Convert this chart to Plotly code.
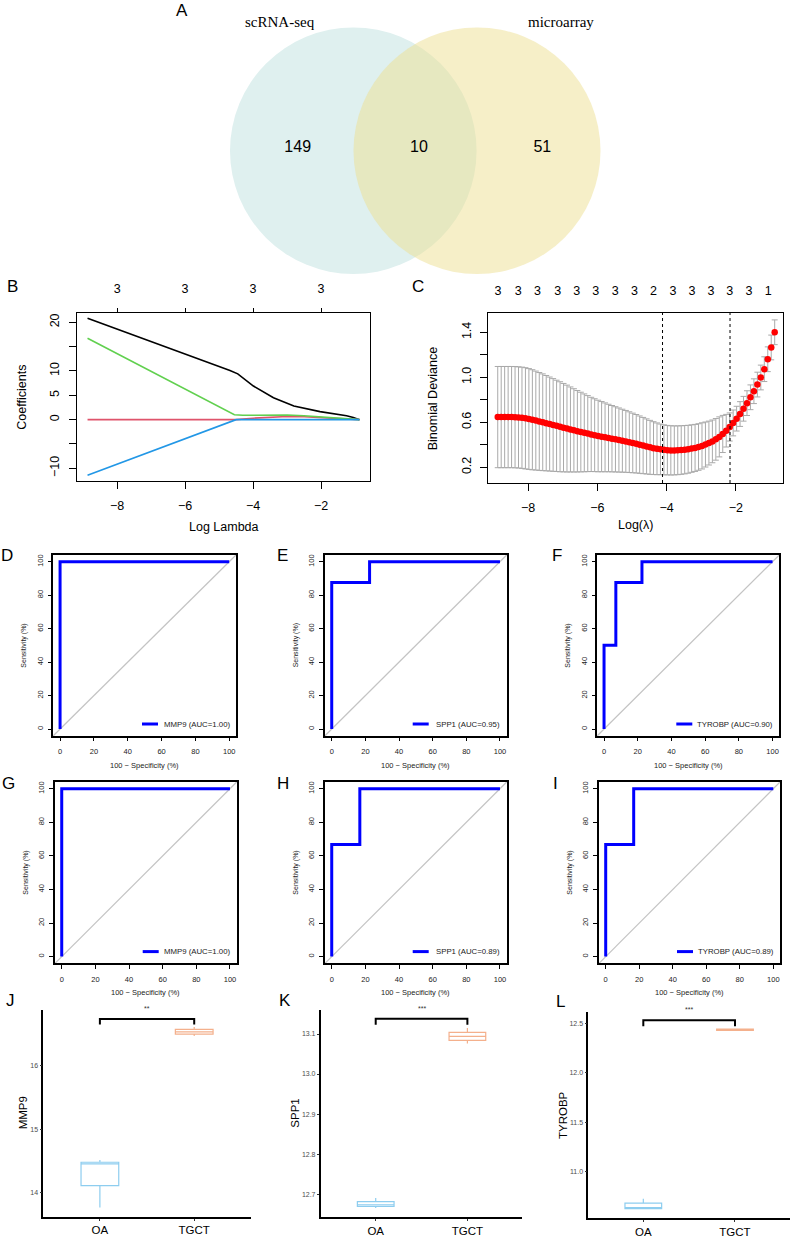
import plotly.graph_objects as go

W, H = 790, 1239
SANS = "Liberation Sans, Arial, sans-serif"
SERIF = "Liberation Serif, Times New Roman, serif"

# ---------------- data ----------------
# A: Venn diagram
venn_names = ["scRNA-seq", "microarray"]
venn_counts = [149, 10, 51]  # only scRNA-seq, both, only microarray

# B: lasso coefficient paths (log lambda -> coefficient)
path_black_x = [-8.87, -8.0, -7.0, -6.0, -5.0, -4.68, -4.45, -4.2, -3.99, -3.4, -2.8, -2.03, -1.5, -1.25, -1.05, -0.87]
path_black_y = [20.8, 18.6, 16.1, 13.5, 11.0, 10.1, 9.4, 8.0, 6.9, 4.5, 2.8, 1.65, 1.15, 0.8, 0.45, 0.0]
path_red_x = [-8.87, -4.5, -4.0, -3.5, -3.0, -2.5, -2.0, -1.5, -0.87]
path_red_y = [0.0, 0.0, 0.3, 0.55, 0.65, 0.6, 0.4, 0.15, 0.0]
path_green_x = [-8.87, -4.55, -4.3, -3.5, -3.0, -2.5, -2.0, -1.5, -1.2, -0.87]
path_green_y = [16.7, 1.0, 0.9, 1.0, 0.95, 0.8, 0.55, 0.2, 0.05, 0.0]
path_blue_x = [-8.87, -4.5, -0.87]
path_blue_y = [-11.4, 0.0, 0.0]
path_top_pos = [-8, -6, -4, -2]
path_top_lab = ["3", "3", "3", "3"]

# C: cross-validation curve
cv_loglambda = [
    -8.88, -8.78, -8.68, -8.58, -8.48, -8.38, -8.28, -8.18, -8.08, -7.98,
    -7.88, -7.78, -7.68, -7.58, -7.48, -7.38, -7.28, -7.18, -7.08, -6.98,
    -6.88, -6.78, -6.68, -6.58, -6.48, -6.38, -6.28, -6.18, -6.08, -5.98,
    -5.88, -5.78, -5.68, -5.58, -5.48, -5.38, -5.28, -5.18, -5.08, -4.98,
    -4.88, -4.78, -4.68, -4.58, -4.48, -4.38, -4.28, -4.18, -4.08, -3.98,
    -3.88, -3.78, -3.68, -3.58, -3.48, -3.38, -3.28, -3.18, -3.08, -2.98,
    -2.88, -2.78, -2.68, -2.58, -2.48, -2.38, -2.28, -2.18, -2.08, -1.98,
    -1.88, -1.78, -1.68, -1.58, -1.48, -1.38, -1.28, -1.18, -1.08, -0.98,
    -0.88]
cv_mean = [
    0.646, 0.646, 0.646, 0.646, 0.646, 0.645, 0.643, 0.640, 0.635, 0.629,
    0.622, 0.615, 0.607, 0.600, 0.592, 0.584, 0.576, 0.568, 0.560, 0.552,
    0.544, 0.536, 0.528, 0.520, 0.513, 0.506, 0.499, 0.492, 0.485, 0.478,
    0.472, 0.466, 0.460, 0.454, 0.448, 0.442, 0.436, 0.430, 0.423, 0.416,
    0.409, 0.401, 0.393, 0.385, 0.377, 0.370, 0.364, 0.359, 0.355, 0.352,
    0.350, 0.350, 0.351, 0.353, 0.356, 0.360, 0.366, 0.372, 0.380, 0.390,
    0.402, 0.415, 0.430, 0.448, 0.470, 0.496, 0.525, 0.558, 0.594, 0.632,
    0.673, 0.720, 0.770, 0.822, 0.876, 0.935, 0.998, 1.072, 1.160, 1.265,
    1.400]
cv_se = [
    0.450, 0.450, 0.450, 0.450, 0.450, 0.450, 0.450, 0.450, 0.450, 0.448,
    0.445, 0.440, 0.435, 0.430, 0.424, 0.418, 0.412, 0.406, 0.400, 0.393,
    0.386, 0.378, 0.370, 0.362, 0.354, 0.346, 0.338, 0.330, 0.324, 0.318,
    0.312, 0.306, 0.300, 0.295, 0.290, 0.285, 0.280, 0.275, 0.270, 0.265,
    0.260, 0.255, 0.250, 0.245, 0.240, 0.235, 0.230, 0.225, 0.222, 0.220,
    0.219, 0.218, 0.217, 0.216, 0.215, 0.213, 0.211, 0.209, 0.207, 0.205,
    0.200, 0.195, 0.190, 0.185, 0.178, 0.165, 0.145, 0.125, 0.115, 0.110,
    0.110, 0.110, 0.110, 0.110, 0.110, 0.110, 0.110, 0.110, 0.110, 0.110,
    0.110]
cv_top_pos = [-8.87, -8.29, -7.73, -7.15, -6.6, -6.05, -5.49, -4.93, -4.38,
              -3.82, -3.27, -2.72, -2.18, -1.62, -1.07]
cv_top_lab = ["3", "3", "3", "3", "3", "3", "3", "3", "2",
              "3", "3", "3", "3", "3", "1"]
lambda_min = -4.12
lambda_1se = -2.17

# D-I: ROC curves (100 - specificity, sensitivity)
roc_genes = ["MMP9", "SPP1", "TYROBP", "MMP9", "SPP1", "TYROBP"]
roc_auc = ["1.00", "0.95", "0.90", "1.00", "0.89", "0.89"]
roc_fpr = [[0, 0, 100],
           [0, 0, 22.5, 22.5, 100],
           [0, 0, 7, 7, 22.5, 22.5, 100],
           [0, 0, 100],
           [0, 0, 16.7, 16.7, 100],
           [0, 0, 16.7, 16.7, 100]]
roc_tpr = [[0, 100, 100],
           [0, 87.5, 87.5, 100, 100],
           [0, 50, 50, 87.5, 87.5, 100, 100],
           [0, 100, 100],
           [0, 66.7, 66.7, 100, 100],
           [0, 66.7, 66.7, 100, 100]]

# J-L: expression boxplots (OA, TGCT)
box_genes = ["MMP9", "SPP1", "TYROBP"]
box_groups = ["OA", "TGCT"]
box_low = [[13.764, 16.47], [12.665, 13.076], [10.627, 12.428]]
box_q1 = [[14.11, 16.50], [12.669, 13.084], [10.627, 12.432]]
box_med = [[14.452, 16.535], [12.673, 13.094], [10.634, 12.44]]
box_q3 = [[14.479, 16.575], [12.681, 13.104], [10.684, 12.445]]
box_high = [[14.515, 16.61], [12.69, 13.115], [10.729, 12.447]]
box_sig = ["**", "***", "***"]
box_bracket_top = [16.74, 13.138, 12.533]
box_bracket_leg = [16.65, 13.123, 12.473]
box_ticks = [[14, 15, 16], [12.7, 12.8, 12.9, 13.0, 13.1], [11.0, 11.5, 12.0, 12.5]]
box_ticktext = [["14", "15", "16"], ["12.7", "12.8", "12.9", "13.0", "13.1"],
                ["11.0", "11.5", "12.0", "12.5"]]


# ---------------- helpers ----------------
def dom_x(left, right):
    return [left / W, right / W]


def dom_y(top, bottom):
    return [1 - bottom / H, 1 - top / H]


def note(text, x, y, size, angle=0, family=SANS, color="black", **kw):
    return dict(text=text, x=x / W, y=1 - y / H, xref="paper", yref="paper",
                showarrow=False, textangle=angle, xanchor=kw.pop("xanchor", "center"),
                yanchor=kw.pop("yanchor", "middle"),
                font=dict(size=size, family=family, color=color), **kw)


fig = go.Figure()
lay = {}
shapes = []
annotations = []

# ---------------- A: Venn ----------------
lay["xaxis"] = dict(domain=[0, 1], range=[0, W], visible=False, fixedrange=True)
lay["yaxis"] = dict(domain=dom_y(0, 290), range=[290, 0], visible=False, fixedrange=True)
shapes.append(dict(type="circle", xref="x", yref="y", x0=230, x1=476.6, y0=27.4, y1=274,
                   fillcolor="rgb(223,240,239)", line=dict(width=0), layer="below"))
shapes.append(dict(type="circle", xref="x", yref="y", x0=353.5, x1=600.5, y0=27.4, y1=274,
                   fillcolor="rgba(237,223,145,0.5)", line=dict(width=0), layer="below"))
fig.add_trace(go.Scatter(x=[297.7, 419, 542.3], y=[148, 148, 148], text=[str(c) for c in venn_counts],
                         mode="text", textfont=dict(size=16, family=SANS, color="black"),
                         hoverinfo="skip", xaxis="x", yaxis="y"))
annotations.append(note(venn_names[0], 280, 22, 15, family=SERIF))
annotations.append(note(venn_names[1], 561, 22, 15, family=SERIF))

# ---------------- B: coefficient paths ----------------
for xs, ys, col in [(path_black_x, path_black_y, "black"), (path_red_x, path_red_y, "#DF536B"),
                    (path_green_x, path_green_y, "#61D04F"), (path_blue_x, path_blue_y, "#2297E6")]:
    fig.add_trace(go.Scatter(x=xs, y=ys, mode="lines", line=dict(color=col, width=1.6),
                             xaxis="x2", yaxis="y2", hoverinfo="skip"))
fig.add_trace(go.Scatter(x=path_top_pos, y=[0] * len(path_top_pos), mode="markers",
                         marker=dict(opacity=0), xaxis="x3", yaxis="y2", hoverinfo="skip"))

r_axis = dict(showline=True, mirror=True, linecolor="black", linewidth=1.3, ticks="outside",
              tickcolor="black", tickwidth=1, showgrid=False, zeroline=False,
              tickfont=dict(size=12.5, family=SANS, color="black"))
lay["xaxis2"] = dict(r_axis, domain=dom_x(77, 370), range=[-9.18, -0.56], anchor="y2",
                     tickvals=[-8, -6, -4, -2], ticklen=7, ticklabelstandoff=6)
lay["xaxis3"] = dict(overlaying="x2", side="top", anchor="y2", range=[-9.18, -0.56],
                     tickvals=path_top_pos, ticktext=path_top_lab, ticks="outside", ticklen=4,
                     tickcolor="black", showline=False, showgrid=False, zeroline=False,
                     ticklabelstandoff=10, tickfont=dict(size=12.5, family=SANS, color="black"))
lay["yaxis2"] = dict(r_axis, domain=dom_y(313, 481), range=[-12.6, 21.9], anchor="x2",
                     tickvals=[-10, -5, 0, 5, 10, 15, 20],
                     ticktext=["\u221210", "", "0", "5", "10", "", "20"], tickangle=-90, ticklen=7,
                     ticklabelstandoff=5)
annotations.append(note("Coefficients", 21.7, 397, 12.5, angle=-90))
annotations.append(note("Log Lambda", 223.5, 526.7, 12.5))

# ---------------- C: CV curve ----------------
fig.add_trace(go.Scatter(x=cv_loglambda, y=cv_mean, mode="markers",
                         marker=dict(color="red", size=6.5, line=dict(width=0)),
                         error_y=dict(type="data", array=cv_se, color="#A9A9A9", thickness=1, width=3),
                         xaxis="x4", yaxis="y4", hoverinfo="skip"))
fig.add_trace(go.Scatter(x=cv_top_pos, y=[0.5] * len(cv_top_pos), mode="markers",
                         marker=dict(opacity=0), xaxis="x5", yaxis="y4", hoverinfo="skip"))
lay["xaxis4"] = dict(r_axis, domain=dom_x(487.7, 783), range=[-9.17, -0.64], anchor="y4",
                     tickvals=[-8, -6, -4, -2], ticklen=7, ticklabelstandoff=6)
lay["xaxis5"] = dict(overlaying="x4", side="top", anchor="y4", range=[-9.17, -0.64],
                     tickvals=cv_top_pos, ticktext=cv_top_lab, ticks="", showline=False,
                     showgrid=False, zeroline=False, ticklabelstandoff=14,
                     tickfont=dict(size=12.5, family=SANS, color="black"))
lay["yaxis4"] = dict(r_axis, domain=dom_y(312.7, 483), range=[0.06, 1.574], anchor="x4",
                     tickvals=[0.2, 0.4, 0.6, 0.8, 1.0, 1.2, 1.4],
                     ticktext=["0.2", "", "0.6", "", "1.0", "", "1.4"], tickangle=-90, ticklen=7,
                     ticklabelstandoff=4)
for lam in (lambda_min, lambda_1se):
    shapes.append(dict(type="line", xref="x4", yref="y4 domain", x0=lam, x1=lam, y0=0, y1=1,
                       line=dict(color="black", width=1, dash="dot")))
annotations.append(note("Binomial Deviance", 433.3, 398, 12.5, angle=-90))
annotations.append(note("Log(\u03bb)", 635.3, 525, 12.5))

# ---------------- D-I: ROC ----------------
roc_boxes = [(53.3, 236, 555, 735.7), (325, 506.7, 555, 735.7), (597.3, 779.3, 555, 735.7),
             (55, 236.7, 782, 963.3), (325, 506.7, 782, 963.3), (599, 780, 782, 963.3)]
for i, (l, r, t, b) in enumerate(roc_boxes):
    n = 6 + i
    fig.add_trace(go.Scatter(x=roc_fpr[i], y=roc_tpr[i], mode="lines",
                             line=dict(color="#0000FF", width=3),
                             xaxis=f"x{n}", yaxis=f"y{n}", hoverinfo="skip"))
    roc_axis = dict(showline=True, mirror=True, linecolor="black", linewidth=1.5, ticks="outside",
                    ticklen=4, tickcolor="black", showgrid=False, zeroline=False, range=[-4, 104],
                    tickvals=[0, 20, 40, 60, 80, 100],
                    tickfont=dict(size=7.5, family=SANS, color="#222222"))
    lay[f"xaxis{n}"] = dict(roc_axis, domain=dom_x(l, r), anchor=f"y{n}", ticklabelstandoff=4)
    lay[f"yaxis{n}"] = dict(roc_axis, domain=dom_y(t, b), anchor=f"x{n}", tickangle=-90,
                            ticklabelstandoff=2)
    shapes.append(dict(type="line", xref=f"x{n} domain", yref=f"y{n} domain", x0=0, y0=0, x1=1, y1=1,
                       line=dict(color="#C4C4C4", width=1.2), layer="below"))
    label = f"{roc_genes[i]} (AUC={roc_auc[i]})"
    tx_right = r - 4.5
    tx_left = tx_right - len(label) * 4.5
    ly = b - 11.7
    annotations.append(note(label, tx_right, ly, 7.8, xanchor="right", color="#222222"))
    shapes.append(dict(type="line", xref="paper", yref="paper", x0=(tx_left - 22) / W,
                       x1=(tx_left - 6) / W, y0=1 - ly / H, y1=1 - ly / H,
                       line=dict(color="#0000FF", width=3)))
    annotations.append(note("Sensitivity (%)", l - 29, (t + b) / 2, 7, angle=-90, color="#222222"))
    annotations.append(note("100 \u2212 Specificity (%)", (l + r) / 2, b + 29.5, 7.5, color="#222222"))

# ---------------- J-L: boxplots ----------------
box_panels = [(43.3, 250.8, 1010, 1216.7), (320.7, 522.4, 1010, 1217.3), (588.3, 790, 1011.7, 1218.3)]
box_ranges = [[13.62, 16.88], [12.642, 13.16], [10.53, 12.62]]
box_cols = ["#8DCDEF", "#F4B08C"]
box_title_x = [23, 295, 563]
for j, (l, r, t, b) in enumerate(box_panels):
    n = 12 + j
    for g in range(2):
        fig.add_trace(go.Box(x=[box_groups[g]], q1=[box_q1[j][g]], median=[box_med[j][g]],
                             q3=[box_q3[j][g]], lowerfence=[box_low[j][g]],
                             upperfence=[box_high[j][g]], width=0.4, whiskerwidth=0,
                             boxpoints=False, line=dict(color=box_cols[g], width=1.2),
                             fillcolor="rgba(255,255,255,0)", xaxis=f"x{n}", yaxis=f"y{n}",
                             hoverinfo="skip"))
    fig.add_trace(go.Scatter(x=[box_groups[0], box_groups[0], box_groups[1], box_groups[1]],
                             y=[box_bracket_leg[j], box_bracket_top[j], box_bracket_top[j],
                                box_bracket_leg[j]],
                             mode="lines", line=dict(color="black", width=2),
                             xaxis=f"x{n}", yaxis=f"y{n}", hoverinfo="skip"))
    span = box_ranges[j][1] - box_ranges[j][0]
    annotations.append(dict(text=box_sig[j], x=0.5, y=box_bracket_top[j] + span * 0.025,
                            xref=f"x{n}", yref=f"y{n}", showarrow=False, yanchor="bottom",
                            font=dict(size=7, family=SANS, color="#333333")))
    lay[f"xaxis{n}"] = dict(domain=dom_x(l, r), anchor=f"y{n}", type="category",
                            categoryorder="array", categoryarray=box_groups, range=[-0.6, 1.6],
                            showline=True, linecolor="black", linewidth=1.6, ticks="outside",
                            ticklen=2, tickcolor="#333333", showgrid=False, zeroline=False,
                            ticklabelstandoff=0,
                            tickfont=dict(size=11.5, family=SANS, color="black"))
    lay[f"yaxis{n}"] = dict(domain=dom_y(t, b), anchor=f"x{n}", range=box_ranges[j],
                            tickvals=box_ticks[j], ticktext=box_ticktext[j],
                            showline=True, linecolor="black", linewidth=1.6, ticks="outside",
                            ticklen=2, tickcolor="#333333", showgrid=False, zeroline=False,
                            ticklabelstandoff=0,
                            tickfont=dict(size=7, family=SANS, color="#4D4D4D"))
    annotations.append(note(box_genes[j], box_title_x[j], (t + b) / 2, 11.5, angle=-90))

# ---------------- panel letters ----------------
letters = ["A", "B", "C", "D", "E", "F", "G", "H", "I", "J", "K", "L"]
letter_pos = [(182, 11), (12, 287), (418, 287), (7, 555), (282, 555), (557, 555),
              (8, 783), (283, 783), (555, 783), (10, 1000), (285, 1000), (560, 1001)]
for lt, (x, y) in zip(letters, letter_pos):
    annotations.append(note(lt, x, y, 17))

fig.update_layout(width=W, height=H, margin=dict(l=0, r=0, t=0, b=0), autosize=False,
                  paper_bgcolor="white", plot_bgcolor="white", showlegend=False,
                  font=dict(family=SANS, color="black"), shapes=shapes,
                  annotations=annotations, **lay)

fig.write_html("out.html", config={"displayModeBar": False},
               post_script="document.body.style.margin='0';document.body.style.overflow='hidden';")
